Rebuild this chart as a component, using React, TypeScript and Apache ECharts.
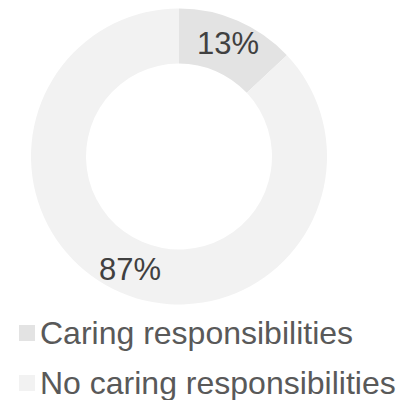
import React, { useEffect, useRef } from "react";
import * as echarts from "echarts";

const categories = ["Caring responsibilities", "No caring responsibilities"];
const values = [13, 87];
const colors = ["#e3e3e3", "#f2f2f2"];

export default function App() {
  const ref = useRef<HTMLDivElement>(null);
  useEffect(() => {
    if (!ref.current) return;
    const chart = echarts.init(ref.current, null, { renderer: "svg" });
    chart.setOption({
      animation: false,
      backgroundColor: "#ffffff",
      legend: {
        orient: "vertical",
        left: 19,
        top: 317,
        height: 90,
        padding: 0,
        itemWidth: 16,
        itemHeight: 16,
        itemGap: 18,
        icon: "rect",
        textStyle: {
          fontFamily: "Liberation Sans, Arial, sans-serif",
          fontSize: 32,
          color: "#595959",
        },
        data: categories,
      },
      series: [
        {
          type: "pie",
          center: [179, 156.5],
          radius: [93, 148],
          startAngle: 90,
          clockwise: true,
          label: {
            show: true,
            position: "inside",
            formatter: "{d}%",
            fontFamily: "Liberation Sans, Arial, sans-serif",
            fontSize: 31,
            color: "#404040",
          },
          labelLine: { show: false },
          emphasis: { disabled: true },
          data: categories.map((name, i) => ({
            name,
            value: values[i],
            itemStyle: { color: colors[i] },
          })),
        },
      ],
    });
    return () => chart.dispose();
  }, []);
  return (
    <div
      ref={ref}
      style={{ position: "fixed", left: 0, top: 0, width: 418, height: 400 }}
    />
  );
}
